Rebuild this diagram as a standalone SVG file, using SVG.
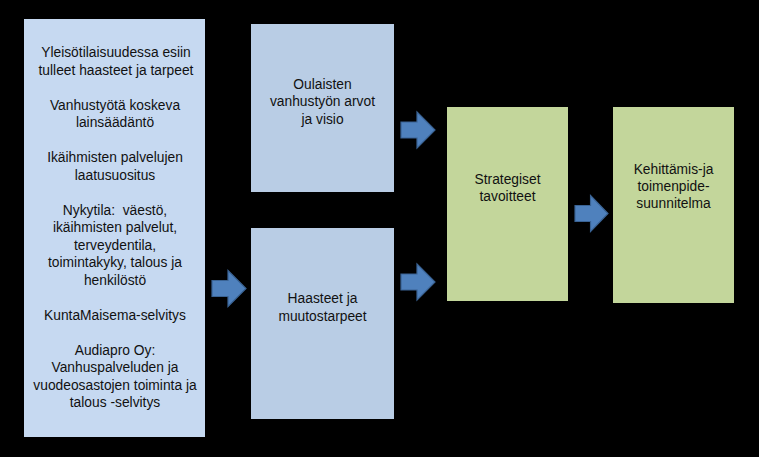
<svg xmlns="http://www.w3.org/2000/svg" width="759" height="457" viewBox="0 0 759 457">
<style>
text{font-family:"Liberation Sans",Arial,sans-serif;font-size:13.8px;fill:#111;text-anchor:middle}
.b1{fill:#c6d9f1}
.b2{fill:#b9cde5}
.g{fill:#c3d69b}
.arr{fill:#4f81bd;stroke:#3a6394;stroke-width:1.2;stroke-linejoin:miter}
</style>
<defs>
<path id="arrow" class="arr" d="M0,-8 H16 V-18 L34,0 L16,18 V8 H0 Z"/>
</defs>
<rect x="0" y="0" width="759" height="457" fill="#000"/>
<g id="sources">
<rect class="b1" x="24" y="19" width="181" height="418"/>
<text x="116" y="57">Yleisötilaisuudessa esiin</text>
<text x="116" y="74.5">tulleet haasteet ja tarpeet</text>
<text x="115" y="109.5">Vanhustyötä koskeva</text>
<text x="115" y="127">lainsäädäntö</text>
<text x="115" y="162">Ikäihmisten palvelujen</text>
<text x="115" y="179.5">laatusuositus</text>
<text x="115" y="214.5">Nykytila:&#160; väestö,</text>
<text x="115" y="232">ikäihmisten palvelut,</text>
<text x="115" y="249.5">terveydentila,</text>
<text x="115" y="267">toimintakyky, talous ja</text>
<text x="115" y="284.5">henkilöstö</text>
<text x="115" y="319.5">KuntaMaisema-selvitys</text>
<text x="115" y="354.5">Audiapro Oy:</text>
<text x="115" y="372">Vanhuspalveluden ja</text>
<text x="115" y="389.5">vuodeosastojen toiminta ja</text>
<text x="115" y="407">talous -selvitys</text>
</g>
<g id="values">
<rect class="b2" x="251" y="24" width="143" height="168"/>
<text x="322.5" y="88.5">Oulaisten</text>
<text x="322.5" y="106">vanhustyön arvot</text>
<text x="322.5" y="123.5">ja visio</text>
</g>
<g id="challenges">
<rect class="b2" x="251" y="228" width="143" height="191"/>
<text x="322.5" y="303">Haasteet ja</text>
<text x="322.5" y="320.5">muutostarpeet</text>
</g>
<g id="goals">
<rect class="g" x="447" y="107" width="121" height="194"/>
<text x="507.5" y="183.5">Strategiset</text>
<text x="507.5" y="201">tavoitteet</text>
</g>
<g id="plan">
<rect class="g" x="613" y="107" width="121" height="196"/>
<text x="673.5" y="173.5">Kehittämis-ja</text>
<text x="673.5" y="190.5">toimenpide-</text>
<text x="673.5" y="207.5">suunnitelma</text>
</g>
<g id="connectors">
<use href="#arrow" transform="translate(212,288.5)"/>
<use href="#arrow" transform="translate(401,130)"/>
<use href="#arrow" transform="translate(401,282)"/>
<use href="#arrow" transform="translate(575,213.5) scale(0.97,1)"/>
</g>
</svg>
